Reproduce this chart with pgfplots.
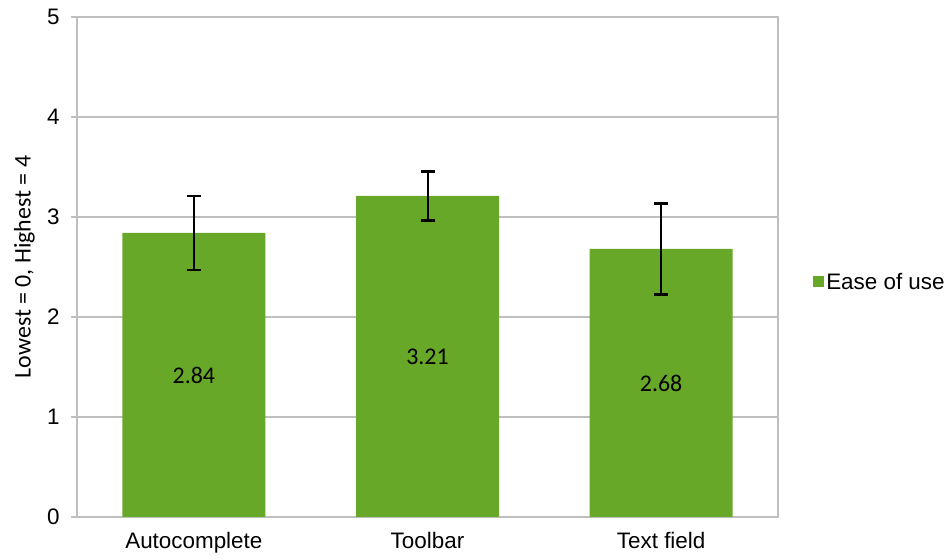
\documentclass[border=0pt]{standalone}
\usepackage{fontspec}
\setmainfont{Liberation Sans}
\newfontfamily\calibri{Carlito}
\usepackage{pgfplots}
\usepackage{pgfplotstable}
\pgfplotsset{compat=1.18}
\definecolor{bargreen}{RGB}{104,168,40}
\definecolor{gridgray}{RGB}{191,191,191}
\pgfplotstableread{
x y err
0 2.84 0.37
1 3.21 0.245
2 2.68 0.455
}\datatable
\begin{document}
\begin{tikzpicture}
\useasboundingbox (-77bp,-43bp) rectangle (874bp,517bp);
\begin{axis}[
 at={(0,0)}, anchor=south west,
 scale only axis, width=701bp, height=500bp,
 xmin=-0.5, xmax=2.5, ymin=0, ymax=5,
 xtick={0,1,2}, xticklabels={Autocomplete,Toolbar,Text field},
 ytick={0,1,2,3,4,5},
 /pgf/number format/assume math mode=true,
 ymajorgrids, grid style={gridgray, line width=1.5bp},
 axis line style={gridgray, line width=1.5bp},
 ytick pos=left, tick align=outside, major tick length=6bp,
 ytick style={gridgray, line width=1.5bp},
 xtick style={draw=none},
 tick label style={font=\fontsize{22.5}{26}\selectfont, black},
 yticklabel style={xshift=-8bp},
 xticklabel style={yshift=-6bp},
 ylabel={Lowest = 0, Highest = 4},
 ylabel style={font=\calibri\fontsize{24}{28}\selectfont,
   at={(axis description cs:-0.075,0.5)}, anchor=center},
 legend style={at={(1.05,0.47)}, anchor=west, draw=none, fill=none,
   font=\fontsize{22.5}{26}\selectfont, inner sep=0pt},
 legend cell align=left,
 legend image code/.code={\fill[#1] (0bp,-5.5bp) rectangle (11bp,5.5bp);},
]
\addplot[ybar, bar width=143bp, fill=bargreen, draw=none,
  error bars/.cd, y dir=both, y explicit,
  error bar style={black, line width=2bp},
  error mark options={rotate=90, mark size=7bp, line width=2bp, black}]
  table[x=x, y=y, y error=err] {\datatable};
\addlegendentry{Ease of use}
\addplot[draw=none, mark=none, forget plot,
  nodes near coords, point meta=explicit symbolic,
  every node near coord/.append style={anchor=center, font=\calibri\fontsize{24}{28}\selectfont, black}]
  table[x=x, y expr=\thisrow{y}/2, meta=y] {\datatable};
\end{axis}
\end{tikzpicture}
\end{document}
